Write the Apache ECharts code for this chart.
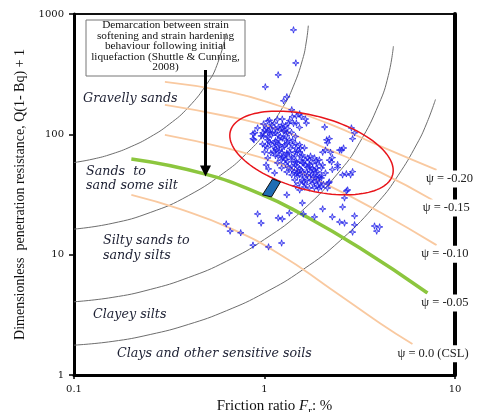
<!DOCTYPE html>
<html>
<head>
<meta charset="utf-8">
<script src="https://cdn.jsdelivr.net/npm/echarts@6/dist/echarts.min.js"></script>
<style>
  html, body { margin: 0; padding: 0; background: #fff; }
  #chart { width: 479px; height: 412px; }
</style>
</head>
<body>
<div id="chart"></div>
<script>
// Axis ticks
const xTicks = [0.1, 1, 10];
const yTicks = [1, 10, 100, 1000];

// Soil behaviour type boundaries [Fr %, Q(1-Bq)+1]
const icGravel = [[0.1,58.3],[0.1259,62.3],[0.1585,68.8],[0.1995,79.1],[0.2512,95.1],[0.3162,121.2],[0.3981,167.5],[0.5012,266],[0.5623,374],[0.631,695]];
const icSands = [[0.1,16.3],[0.1585,18.2],[0.2512,22.4],[0.3981,30.9],[0.631,49.6],[0.7943,68.0],[1,101],[1.259,172],[1.413,248],[1.585,419],[1.66,597],[1.698,800]];
const icSilty = [[0.1,4.06],[0.1585,4.41],[0.2512,5.14],[0.3981,6.45],[0.631,8.81],[1,13.4],[1.585,23.4],[2.512,50.6],[3.162,85.8],[3.981,178],[4.467,308],[4.75,540]];
const icClayey = [[0.1,1.77],[0.1585,1.90],[0.2512,2.17],[0.3981,2.63],[0.631,3.42],[1,4.82],[1.585,7.48],[2.512,13.2],[3.981,27.8],[5.012,45.2],[6.31,83.2],[7.079,122],[7.9,195]];

// State parameter lines
const psiM020 = [[0.30,273],[0.655,225],[1.20,172],[2.19,122],[4.02,80.1],[8.0,50.6]];
const psiM015 = [[0.30,176],[0.655,140],[1.20,109],[2.19,74.2],[4.02,48.7],[7.62,28.5]];
const psiM010 = [[0.30,98.9],[0.655,75.6],[1.20,56.8],[2.19,37.3],[4.02,22.6],[8.0,12.0]];
const psiM005 = [[0.20,62.4],[0.484,46.9],[0.976,31.4],[1.527,22.2],[3.153,11.4],[7.17,4.80]];
const psiCSL = [[0.20,31.4],[0.358,24.0],[0.655,16.7],[1.20,10.1],[2.19,5.29],[4.02,2.71],[5.98,1.81]];

// CPT test data [Fr %, Q(1-Bq)+1]
const cptPoints = [
  [1.42,738],[1.46,392],[1.18,312],[1.01,248],[1.31,205],[1.26,190],[1.39,160],[1.47,142],[1.56,140],[1.64,134],
  [1.66,124],[1.53,148],[2.07,115],[2.86,113],[2.97,103],[2.90,92],[2.19,92],[2.14,85],[2.54,74],[2.02,71],
  [2.22,71],[2.19,61],[2.42,56],[2.27,51],[2.69,47],[2.83,46],[2.90,49],[2.73,34.5],[2.57,24.9],[2.02,24.0],
  [2.27,20.6],[1.83,20.6],[2.48,18.7],[2.63,18.3],[2.97,21.0],[2.97,17.7],[2.90,15.4],[3.78,17.3],[4.02,17.0],[3.88,15.7],
  [2.63,29.6],[2.69,33.8],[1.60,21.8],[1.58,26.9],[1.35,22.2],[1.31,31.4],[1.18,20.2],[1.24,19.8],[0.92,21.8],[0.96,18.3],
  [0.63,18.0],[0.66,15.7],[0.75,15.2],[0.87,12.0],[1.05,11.6],[1.23,12.5],[2.48,74],[2.60,77],[2.12,90],[2.27,64],
  [2.42,53],[2.25,59],[2.09,74],[2.57,46],[2.17,39.4],[1.90,37.3],[1.99,36.5],[0.87,101],[0.96,97],[0.89,103],
  [0.87,92],[0.88,90],
  [1.04,129],[1.14,111],[1.24,134],[1.23,115],[1.00,109],[1.04,95],[1.10,103],[1.17,99],[1.24,93],[1.32,103],
  [1.35,90],[1.06,86.5],[1.13,85],[1.20,82],[1.27,79],[1.16,74],[1.23,71],[1.31,70],[1.39,65],[1.24,64],
  [1.02,113],[0.98,103],[1.20,109],[1.34,124],[1.40,140],[1.47,124],[1.09,120],[1.29,118],[1.06,105],[1.27,107],
  [1.18,90],[1.40,82],[1.47,77],[1.53,82],[1.12,79],[1.32,85],[1.01,80],[1.08,70],[1.18,66],[1.29,62],[1.44,71],
  [1.32,59],[1.44,59],[1.39,54.6],[1.49,53.6],[1.58,57.9],[1.56,50.6],[1.66,48.7],[1.72,53.6],[1.79,57.9],[1.87,52.6],
  [1.76,46.0],[1.87,44.2],[1.62,44.2],[1.53,46.0],[1.47,47.8],[1.68,41.8],[1.83,40.2],[1.94,44.2],[1.94,39.4],[2.14,35.8],
  [2.19,40.2],[2.09,47.8],[2.02,55.7],[1.94,61.3],[1.83,63.7],[1.68,63.7],[1.58,67.4],[1.53,71.4],[1.62,77.1],[1.00,71.4],
  [1.04,63.7],[1.02,55.7],[1.05,51.6],[1.13,47.8],[1.17,57.9],[1.23,52.6],[1.31,48.7],[1.39,46.0],[1.44,41.8],[1.53,39.4],
  [1.62,36.5],[1.72,35.8],[1.53,34.5],[1.31,67.4],[1.39,50.6],[1.49,47.8],[1.47,59.0],[1.72,61.3],[1.64,55.7],[1.81,50.6],
  [1.90,48.7],[1.99,43.4],[1.60,40.2],[1.46,37.3],[0.92,113],
  [1.062,131],[1.170,133],[1.353,130],[0.988,122],[1.128,124],[1.243,121],[1.420,123],
  [1.075,113],[1.184,115],[1.320,112],[1.527,114],[1.037,105],[1.142,103],[1.258,106],[1.386,104],
  [0.988,97],[1.088,98],[1.213,96],[1.305,97.5],[1.455,96],[1.037,90],[1.142,88.5],[1.273,91],[1.403,89],
  [0.976,83],[1.075,84],[1.184,82.5],[1.305,83.5],[1.455,84],[1.037,77.5],[1.142,76],[1.243,78],[1.369,76.5],[1.545,77],
  [1.115,71],[1.199,72.5],[1.353,71],[1.490,72],[1.142,66.5],[1.258,65.5],[1.455,66.5],[1.564,65],[1.744,66],
  [1.228,61],[1.386,62],[1.527,60.5],[1.641,61.5],[1.874,60.5],[1.289,57],[1.455,56],[1.602,57.5],[1.722,56.5],[1.897,57],
  [1.336,53],[1.527,52],[1.681,53],[1.786,52],[1.991,52.5],[1.437,49],[1.583,48.5],[1.744,49],[1.852,48],
  [1.490,45],[1.681,45.5],[1.807,44.5],[1.991,45.5],[1.583,42],[1.744,41.5],[1.897,42],
  [1.641,38.5],[1.786,39],[2.040,38.5],[1.829,36],[1.921,35.5]
];

// Annotation geometry in data units
const ellipseCentre = [1.765, 70.0];
const flowBar = [[0.976,31.4],[1.088,30.2],[1.213,40.2],[1.102,42.6]];
const arrowFrom = [0.49, 343];
const arrowTo = [0.49, 49.6];

const psiLabels = [
  { at: [9.36, 42.6], text: 'ψ = -0.20' },
  { at: [9.0, 24.4], text: 'ψ = -0.15' },
  { at: [8.85, 10.1], text: 'ψ = -0.10' },
  { at: [8.85, 3.97], text: 'ψ = -0.05' },
  { at: [7.67, 1.50], text: 'ψ = 0.0 (CSL)' }
];

const boxLines = [
  'Demarcation between strain',
  'softening and strain hardening',
  'behaviour following initial',
  'liquefaction (Shuttle & Cunning,',
  '2008)'
];

const zoneLabels = [
  { text: 'Gravelly sands', x: 83, y: 99 },
  { text: 'Sands  to', x: 86, y: 172 },
  { text: 'sand some silt', x: 86, y: 186 },
  { text: 'Silty sands to', x: 103, y: 241 },
  { text: 'sandy silts', x: 103, y: 256 },
  { text: 'Clayey silts', x: 93, y: 315 },
  { text: 'Clays and other sensitive soils', x: 117, y: 354 }
];

const serif = '"Liberation Serif", "Times New Roman", serif';

function curve(data, color, width, z) {
  return {
    type: 'line', data: data, smooth: true, showSymbol: false, silent: true,
    lineStyle: { color: color, width: width }, z: z
  };
}

const chart = echarts.init(document.getElementById('chart'), null, { renderer: 'canvas' });

const boxGraphic = {
  type: 'group', z: 50,
  children: [
    { type: 'rect', shape: { x: 86, y: 20, width: 159, height: 56 }, style: { fill: '#fff', stroke: '#777', lineWidth: 1 } },
    { type: 'text', style: { text: boxLines.join('\n'), x: 165.5, y: 46.5, align: 'center', verticalAlign: 'middle',
      font: '11.3px ' + serif, lineHeight: 10.5, fill: '#111' } }
  ]
};
const zoneGraphics = zoneLabels.map(function (l) {
  return { type: 'text', z: 40, style: { text: l.text, x: l.x, y: l.y, verticalAlign: 'middle',
    font: 'italic 12.7px "DejaVu Serif", serif', fill: '#1d2033' } };
});

chart.setOption({
  animation: false,
  grid: { left: 74, right: 24, top: 14, bottom: 37, containLabel: false, outerBoundsMode: 'none',
    show: true, borderColor: '#111', borderWidth: 2, backgroundColor: '#fff' },
  xAxis: {
    type: 'log', logBase: 10, min: xTicks[0], max: xTicks[xTicks.length - 1],
    axisLine: { lineStyle: { color: '#000', width: 3 } },
    axisTick: { show: true, length: 4, lineStyle: { color: '#000', width: 1.5 } },
    axisLabel: { fontFamily: 'DejaVu Serif', fontSize: 10, color: '#111', margin: 9, formatter: function (v) { return String(v); } },
    splitLine: { show: false },
    name: '{t|Friction ratio }{i|F}{s|r}{t|: %}',
    nameLocation: 'middle', nameGap: 17,
    nameTextStyle: {
      fontFamily: serif, fontSize: 15, color: '#111', padding: [0, 0, 0, 20],
      rich: {
        t: { fontFamily: serif, fontSize: 15, color: '#111', lineHeight: 20, verticalAlign: 'middle' },
        i: { fontFamily: serif, fontStyle: 'italic', fontSize: 15, color: '#111', lineHeight: 20, verticalAlign: 'middle' },
        s: { fontFamily: serif, fontSize: 11, color: '#111', lineHeight: 13, verticalAlign: 'bottom' }
      }
    }
  },
  yAxis: [{
    type: 'log', logBase: 10, min: yTicks[0], max: yTicks[yTicks.length - 1],
    axisLine: { lineStyle: { color: '#000', width: 3 } },
    axisTick: { show: true, length: 5, lineStyle: { color: '#000', width: 1.5 } },
    axisLabel: { fontFamily: 'DejaVu Serif', fontSize: 10, color: '#111', margin: 10, formatter: function (v) { return String(v); } },
    splitLine: { show: false },
    name: 'Dimensionless  penetration resistance, Q(1- Bq) + 1',
    nameLocation: 'middle', nameGap: 36, nameRotate: 90,
    nameTextStyle: { fontFamily: serif, fontSize: 14, color: '#111' }
  }, {
    type: 'log', logBase: 10, min: yTicks[0], max: yTicks[yTicks.length - 1], position: 'right',
    axisLine: { lineStyle: { color: '#000', width: 4 } },
    axisTick: { show: false }, axisLabel: { show: false }, splitLine: { show: false }
  }],
  graphic: [boxGraphic].concat(zoneGraphics),
  series: [
    curve(icGravel, '#6e6e6e', 1, 2),
    curve(icSands, '#6e6e6e', 1, 2),
    curve(icSilty, '#6e6e6e', 1, 2),
    curve(icClayey, '#6e6e6e', 1, 2),
    curve(psiM020, '#f9c9a0', 1.8, 3),
    curve(psiM015, '#f9c9a0', 1.8, 3),
    curve(psiM010, '#f9c9a0', 1.8, 3),
    curve(psiCSL, '#f9c9a0', 1.8, 3),
    curve(psiM005, '#8cc63e', 3.5, 4),
    {
      type: 'scatter', data: cptPoints, z: 5, silent: true,
      symbol: 'path://M5,0 L6.1,3.9 L10,5 L6.1,6.1 L5,10 L3.9,6.1 L0,5 L3.9,3.9 Z',
      symbolSize: 6.5,
      itemStyle: { color: 'rgba(40,40,255,0.35)', borderColor: 'rgba(25,25,230,0.9)', borderWidth: 1 }
    },
    {
      type: 'custom', z: 6, silent: true, data: [ellipseCentre],
      renderItem: function (params, api) {
        const c = api.coord([api.value(0), api.value(1)]);
        const a = 84, b = 37, th = 15 * Math.PI / 180;
        const pts = [];
        for (let k = 0; k < 120; k++) {
          const t = k / 120 * Math.PI * 2;
          pts.push([
            c[0] + a * Math.cos(th) * Math.cos(t) - b * Math.sin(th) * Math.sin(t),
            c[1] + a * Math.sin(th) * Math.cos(t) + b * Math.cos(th) * Math.sin(t)
          ]);
        }
        return { type: 'polygon', shape: { points: pts }, style: { fill: 'none', stroke: '#e8141a', lineWidth: 1.5 } };
      }
    },
    {
      type: 'custom', z: 7, silent: true, data: [flowBar[0]],
      renderItem: function (params, api) {
        const pts = flowBar.map(function (p) { return api.coord(p); });
        return { type: 'polygon', shape: { points: pts }, style: { fill: '#1f6db4', stroke: '#111', lineWidth: 1 } };
      }
    },
    {
      type: 'lines', coordinateSystem: 'cartesian2d', z: 60, silent: true,
      data: [{ coords: [arrowFrom, arrowTo] }],
      symbol: ['none', 'triangle'], symbolSize: 11,
      lineStyle: { color: '#000', width: 3, opacity: 1 }
    }
  ]
});

// State-parameter labels sit on the right frame with a white backing
const psiGraphics = psiLabels.map(function (p) {
  const px = chart.convertToPixel({ gridIndex: 0 }, p.at);
  return { type: 'text', z: 100, style: { text: p.text, x: px[0], y: px[1], align: 'center', verticalAlign: 'middle',
    font: '12.5px ' + serif, fill: '#222', backgroundColor: '#fff', padding: [2, 2] } };
});
chart.setOption({ graphic: [boxGraphic].concat(zoneGraphics, psiGraphics) });
</script>
</body>
</html>
